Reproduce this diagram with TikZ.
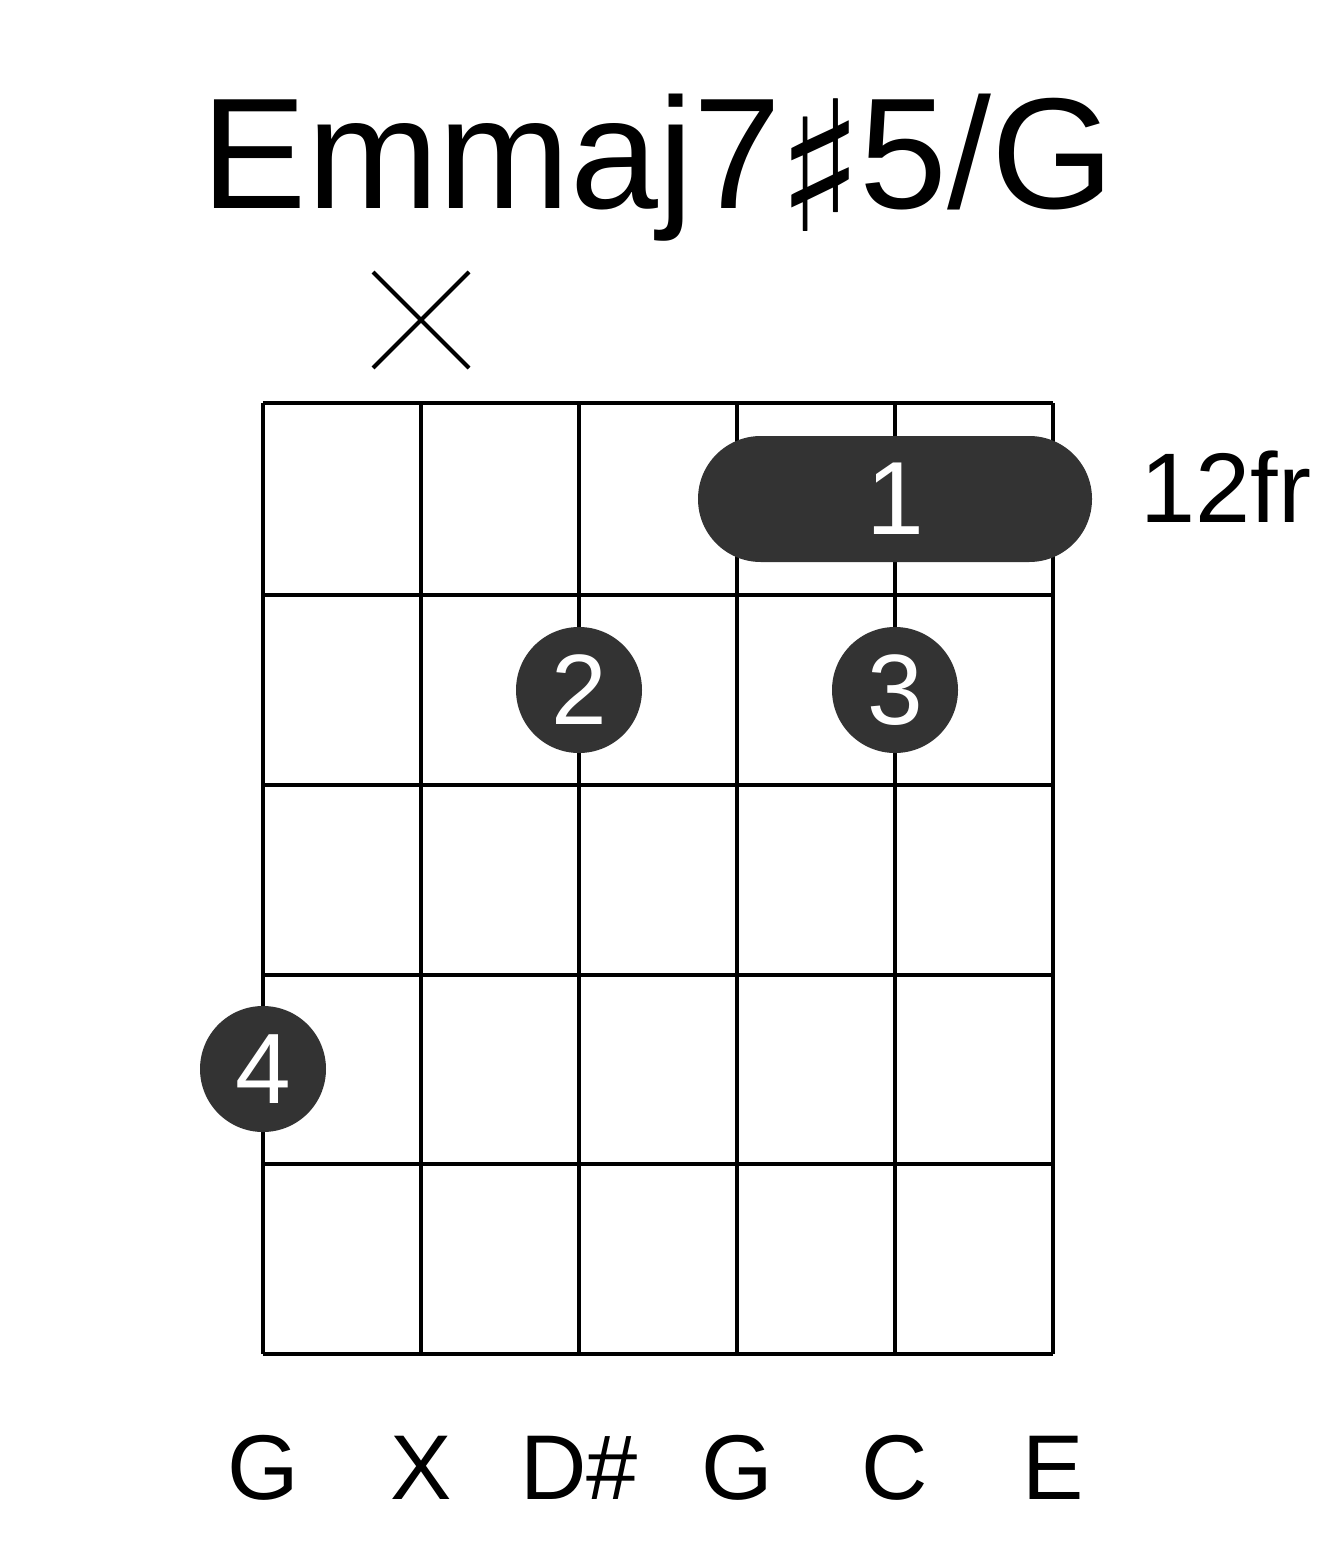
\documentclass[tikz,border=0pt]{standalone}
\usepackage{fontspec}
\usetikzlibrary{calc}
\setmainfont{Liberation Sans}
\newfontfamily\symfont{DejaVu Sans}
\definecolor{dotgray}{HTML}{333333}
\begin{document}
\begin{tikzpicture}[x=0.5pt,y=-0.5pt,
  gridline/.style={line width=2.1pt,black},
  fingerdot/.style={circle,fill=dotgray,draw=none,minimum size=63pt,inner sep=0pt,text=white,font=\fontsize{50}{50}\selectfont},
  bottomlabel/.style={anchor=base,font=\fontsize{46}{46}\selectfont},
]
\useasboundingbox (0,0) rectangle (1317,1551);
\fill[white] (0,0) rectangle (1317,1551);
% title
\node[anchor=base,inner sep=0pt,font=\fontsize{79}{80}\selectfont] (title) at (658,209) {Emmaj7\hspace{-0.03em}\raisebox{-0.14em}{\scalebox{1.15}[1.15]{\symfont ♯}}\hspace{-0.03em}5/G};
% grid
\foreach \y in {403,595,785,975,1164,1354}
  \draw[gridline] (263,\y) -- (1053,\y);
\foreach \x in {263,421,579,737,895,1053}
  \draw[gridline] (\x,403) -- (\x,1354);
% muted string marker
\coordinate (xm) at (421,320);
\draw[line width=2pt] ($(xm)+(-48,-48)$) -- ($(xm)+(48,48)$);
\draw[line width=2pt] ($(xm)+(48,-48)$) -- ($(xm)+(-48,48)$);
% barre
\fill[dotgray,rounded corners=31.4pt] (698,436) rectangle (1092,562);
\node[text=white,inner sep=0pt,font=\fontsize{52}{52}\selectfont] (barre) at (895,499) {1};
% dots
\node[fingerdot] (d2) at (579,690) {2};
\node[fingerdot] (d3) at (895,690) {3};
\node[fingerdot] (d4) at (263,1069) {4};
% fret label
\node[anchor=base west,inner sep=0pt,font=\fontsize{49.5}{50}\selectfont] (fr) at (1140,522) {12fr};
% bottom labels
\node[bottomlabel,inner sep=0pt] (l1) at (263,1499) {G};
\node[bottomlabel,inner sep=0pt] (l2) at (421,1499) {X};
\node[bottomlabel,inner sep=0pt] (l3) at (579,1499) {D\#};
\node[bottomlabel,inner sep=0pt] (l4) at (737,1499) {G};
\node[bottomlabel,inner sep=0pt] (l5) at (895,1499) {C};
\node[bottomlabel,inner sep=0pt] (l6) at (1053,1499) {E};
\end{tikzpicture}
\end{document}
